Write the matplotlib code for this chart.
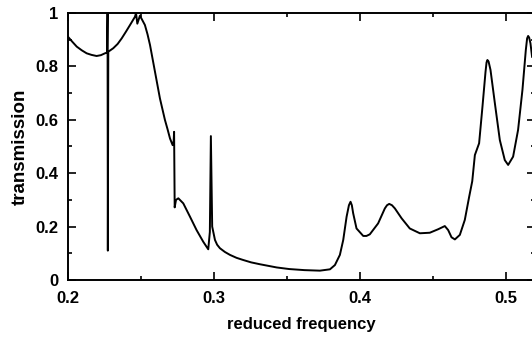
import matplotlib
matplotlib.use("Agg")
import matplotlib.pyplot as plt
from matplotlib.ticker import MultipleLocator

plt.rcParams['font.family'] = ['Liberation Sans', 'DejaVu Sans']

# values
freq = [0.2000, 0.2030, 0.2060, 0.2095, 0.2128, 0.2162, 0.2196, 0.2225, 0.2253,
        0.2268, 0.2271, 0.2273, 0.2276, 0.2310, 0.2340, 0.2368, 0.2397, 0.2425,
        0.2459, 0.2466, 0.2475, 0.2493, 0.2527, 0.2545, 0.2562, 0.2579, 0.2596,
        0.2613, 0.2630, 0.2647, 0.2664, 0.2682, 0.2699, 0.2717, 0.2724, 0.2727,
        0.2731, 0.2740, 0.2756, 0.2790, 0.2836, 0.2881, 0.2927, 0.2961, 0.2972,
        0.2979, 0.2988, 0.3007, 0.3022, 0.3041, 0.3075, 0.3110, 0.3155, 0.3200,
        0.3255, 0.3315, 0.3430, 0.3516, 0.3620, 0.3726, 0.3795, 0.3829, 0.3863,
        0.3886, 0.3909, 0.3925, 0.3936, 0.3945, 0.3954, 0.3977, 0.4023, 0.4045,
        0.4068, 0.4125, 0.4171, 0.4186, 0.4201, 0.4220, 0.4240, 0.4286, 0.4342,
        0.4411, 0.4479, 0.4536, 0.4582, 0.4605, 0.4628, 0.4651, 0.4685, 0.4719,
        0.4749, 0.4770, 0.4788, 0.4817, 0.4840, 0.4861, 0.4868, 0.4874, 0.4882,
        0.4895, 0.4925, 0.4959, 0.4993, 0.5016, 0.5050, 0.5084, 0.5114, 0.5137,
        0.5146, 0.5153, 0.5160, 0.5169, 0.5180]
trans = [0.911, 0.892, 0.874, 0.860, 0.849, 0.843, 0.839, 0.842, 0.849,
         0.852, 1.000, 0.110, 0.855, 0.868, 0.884, 0.905, 0.930, 0.955,
         0.986, 1.000, 0.960, 0.990, 0.955, 0.920, 0.880, 0.830, 0.780,
         0.730, 0.680, 0.640, 0.600, 0.565, 0.530, 0.505, 0.520, 0.555,
         0.272, 0.300, 0.306, 0.287, 0.237, 0.187, 0.143, 0.115, 0.180,
         0.539, 0.200, 0.150, 0.132, 0.119, 0.105, 0.094, 0.083, 0.075,
         0.066, 0.059, 0.047, 0.041, 0.037, 0.035, 0.040, 0.056, 0.094,
         0.150, 0.237, 0.280, 0.293, 0.280, 0.250, 0.193, 0.165, 0.165,
         0.171, 0.212, 0.268, 0.280, 0.285, 0.280, 0.268, 0.231, 0.193,
         0.175, 0.177, 0.190, 0.202, 0.187, 0.160, 0.152, 0.169, 0.225,
         0.312, 0.370, 0.468, 0.512, 0.649, 0.780, 0.815, 0.824, 0.818,
         0.787, 0.662, 0.524, 0.449, 0.431, 0.462, 0.562, 0.712, 0.861,
         0.905, 0.914, 0.908, 0.886, 0.836]

fig = plt.figure(figsize=(5.32, 3.39), dpi=100)
ax = fig.add_axes([68/532, 59/339, 467/532, 267/339])

ax.plot(freq, trans, color='black', lw=1.4)

ax.set_xlim(0.2, 0.52)
ax.set_ylim(0, 1)
ax.set_xticks([0.2, 0.3, 0.4, 0.5])
ax.set_xticklabels(['0.2', '0.3', '0.4', '0.5'])
ax.set_yticks([0, 0.2, 0.4, 0.6, 0.8, 1])
ax.set_yticklabels(['0', '0.2', '0.4', '0.6', '0.8', '1'])
ax.xaxis.set_minor_locator(MultipleLocator(0.05))
ax.yaxis.set_minor_locator(MultipleLocator(0.1))
ax.tick_params(which='both', direction='in', top=True, right=True, width=1.2)
ax.tick_params(which='major', length=6, labelsize=12)
ax.tick_params(which='minor', length=3)
ax.tick_params(axis='x', which='major', pad=8)
ax.tick_params(axis='y', which='major', pad=7)
for lab in ax.get_xticklabels() + ax.get_yticklabels():
    lab.set_fontweight('bold')
for sp in ax.spines.values():
    sp.set_linewidth(1.4)

ax.set_xlabel('reduced frequency', fontsize=12, fontweight='bold', labelpad=8)
ax.set_ylabel('transmission', fontsize=13.5, fontweight='bold', labelpad=5)

fig.savefig('out.png', dpi=100)
